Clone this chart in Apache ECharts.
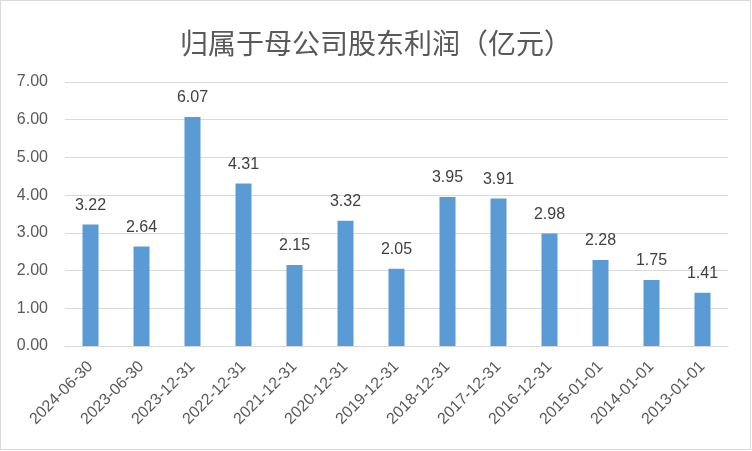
<!DOCTYPE html>
<html><head><meta charset="utf-8">
<script src="https://cdn.jsdelivr.net/npm/echarts@6/dist/echarts.min.js"></script>
<style>html,body{margin:0;padding:0;background:#fff}#c{width:752px;height:451px}</style>
</head><body><div id="c"></div>
<script>
const categories = ["2024-06-30","2023-06-30","2023-12-31","2022-12-31","2021-12-31","2020-12-31","2019-12-31","2018-12-31","2017-12-31","2016-12-31","2015-01-01","2014-01-01","2013-01-01"];
const profit = [3.22,2.64,6.07,4.31,2.15,3.32,2.05,3.95,3.91,2.98,2.28,1.75,1.41];
const titleText = "归属于母公司股东利润（亿元）";
const yMin = 0, yMax = 7, yInterval = 1;

const chart = echarts.init(document.getElementById('c'), null, {renderer:'canvas'});
chart.setOption({
  animation:false,
  backgroundColor:'#fff',
  graphic:[{type:'rect',shape:{x:0.5,y:0.5,width:750,height:449},style:{fill:'none',stroke:'#d9d9d9',lineWidth:1},silent:true}],
  title:{text:titleText,left:'center',top:24,textStyle:{fontFamily:'Noto Sans CJK SC',fontSize:28,fontWeight:'normal',color:'#595959'}},
  grid:{left:65,right:24,top:82,bottom:105,containLabel:false},
  xAxis:{type:'category',data:categories,
    axisLine:{lineStyle:{color:'#d9d9d9',width:1}},axisTick:{show:false},
    axisLabel:{rotate:45,interval:0,color:'#595959',fontSize:16,fontFamily:'Liberation Sans',margin:18}},
  yAxis:{type:'value',min:yMin,max:yMax,interval:yInterval,
    axisLine:{show:false},axisTick:{show:false},
    splitLine:{lineStyle:{color:'#d9d9d9',width:1}},
    axisLabel:{formatter:v=>v.toFixed(2),color:'#595959',fontSize:16,fontFamily:'Liberation Sans',margin:17}},
  series:[{type:'bar',data:profit,barWidth:16,itemStyle:{color:'#5b9bd5'},
    label:{show:true,position:'top',distance:11,formatter:p=>p.value.toFixed(2),color:'#404040',fontSize:16,fontFamily:'Liberation Sans'}}]
});
</script></body></html>
